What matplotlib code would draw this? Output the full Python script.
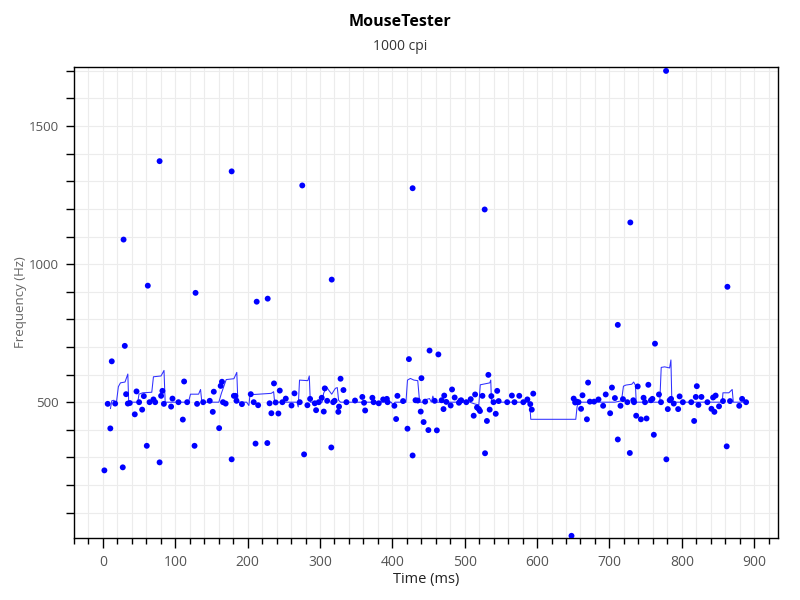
import matplotlib
matplotlib.use("Agg")
import matplotlib.pyplot as plt
from matplotlib.ticker import MultipleLocator, FixedLocator

plt.rcParams['font.family'] = ['Open Sans', 'DejaVu Sans']

title = "MouseTester"
subtitle = "1000 cpi"
x_label = "Time (ms)"
y_label = "Frequency (Hz)"

# scatter points: time (ms) and frequency (Hz)
point_t = [2, 6.6, 10.2, 12.2, 16.9, 27.4, 28.5, 30.2, 32, 34.4, 37.1, 44, 46.4, 50, 54.2, 56.5,
           60.6, 62, 64.4, 69.8, 72.2, 78.3, 78.3, 80.4, 82.2, 84.2, 94.2, 96.1, 104.4, 110.4,
           112.2, 116.4, 126.6, 128, 130.1, 138.5, 147.6, 151.8, 153.2, 160.6, 162.7, 164.5,
           165.9, 169.6, 177.9, 177.9, 181, 183, 184.6, 192.1, 204.3, 208.4, 210.9, 212.5,
           214.5, 227.2, 227.7, 230.3, 232.8, 236.4, 238.7, 242.5, 244.4, 248, 252.7, 260.6,
           264.7, 272, 275.5, 278, 282.6, 286.3, 292.8, 294.6, 298.3, 302.4, 305.2, 306.6,
           309.9, 315.6, 316.2, 318.2, 320.2, 325.3, 326.3, 328.4, 332.4, 336.5, 348.4, 358.5,
           360.9, 362.4, 372.4, 374.1, 381.2, 387.3, 392.4, 393.4, 402.8, 405.2, 407, 414.8,
           420.9, 422.9, 428, 428, 432, 435.1, 439.2, 440.2, 443.2, 445.3, 449.8, 451.4, 458.5,
           461.5, 463.6, 468.1, 470.7, 471.7, 474.6, 480.6, 482.5, 486.1, 492, 494, 495.1,
           502.2, 508.3, 512.4, 514.4, 517, 519.5, 521.1, 524.5, 527.6, 528.1, 530.7, 532.7,
           534.5, 536.8, 539.8, 542.9, 544.9, 546.9, 558.7, 565.2, 568.8, 575.4, 581, 586.6,
           590.6, 592.7, 594.7, 647.6, 650.6, 652.6, 654.7, 657.3, 660.8, 662.8, 668.9, 670.5,
           673, 678.8, 684.9, 691.3, 694.9, 701, 703.5, 707.6, 711.6, 711.6, 715.3, 718.7,
           724.8, 728.2, 728.9, 733, 734, 737, 739.1, 743.5, 747.2, 749.2, 751.3, 753.8, 757.4,
           759.4, 761.4, 763, 768.5, 771.3, 778.3, 778.7, 780.7, 783.3, 785.2, 788.9, 795, 797,
           801.5, 813.1, 817.1, 819.4, 820.8, 823, 827.2, 835.4, 841, 843.3, 845.1, 846.8,
           851.5, 857, 862.1, 863.1, 866.7, 879.4, 883.4, 888.9]
point_f = [253, 494, 405, 648, 495, 264, 1089, 704, 529, 495, 497, 456, 539, 500, 473, 522,
           342, 922, 500, 510, 500, 1373, 282, 523, 541, 494, 484, 513, 500, 437,
           575, 500, 342, 896, 494, 500, 505, 465, 538, 406, 559, 574,
           500, 495, 293, 1336, 523, 523, 505, 493, 529, 500, 350, 864,
           489, 352, 875, 496, 460, 568, 499, 459, 542, 500, 513, 488,
           532, 500, 1285, 311, 489, 512, 496, 471, 500, 516, 466, 550,
           505, 336, 944, 500, 505, 465, 484, 585, 544, 500, 506, 519,
           498, 470, 516, 500, 496, 510, 512, 500, 487, 439, 523, 504,
           404, 656, 307, 1275, 507, 506, 466, 587, 428, 502, 399, 687, 505,
           398, 673, 507, 475, 524, 501, 488, 546, 517, 498, 505, 507,
           500, 511, 451, 528, 481, 475, 468, 523, 1198, 315, 432, 599,
           473, 522, 500, 458, 541, 504, 500, 524, 500, 523, 500, 510,
           493, 473, 531, 16, 513, 499, 502, 500, 476, 525, 438, 571,
           502, 502, 510, 487, 528, 460, 553, 515, 365, 780, 487, 511,
           500, 316, 1151, 507, 500, 451, 557, 438, 516, 500, 441, 563, 507,
           512, 382, 712, 528, 500, 1700, 293, 475, 507, 512, 495, 475, 521,
           500, 500, 432, 519, 558, 490, 519, 500, 476, 517, 465, 524,
           485, 504, 340, 918, 504, 487, 512, 500]

# smoothed line: time (ms) and frequency (Hz)
line_t = [10.4, 12.2, 15.2, 16.9, 18.7, 21.3, 24.2, 30.5, 34.4, 35.6, 48.2, 49.8, 54.9, 67.5,
          69.8, 80.3, 84.4, 86, 118.2, 121, 132.2, 134.9, 136.7, 160.2, 163.7, 170.4, 181,
          185, 186.5, 198.6, 201.7, 203.3, 209.4, 232.6, 235.9, 237.3, 268.1, 269.9, 271.7,
          283.2, 285.2, 286.6, 302.9, 305, 309, 311.9, 316.2, 321.2, 323.9, 325.7, 328.4,
          398.5, 401.3, 403.6, 418.8, 420.9, 424.9, 429.8, 435.1, 437.7, 444.3, 447, 451.4,
          453.9, 456, 458.5, 506.9, 513.4, 519.5, 521.5, 534.7, 536, 537, 589.8, 591.3,
          653.5, 655.3, 656.7, 707.6, 716.7, 719.4, 722.8, 730.9, 733.5, 736, 737, 769.6,
          771.6, 776.3, 783.2, 785, 786.3, 856, 856.9, 865.1, 869.7, 871.2, 888.9]
line_f = [477, 505, 507, 498, 500, 556, 570, 573, 602, 500, 500, 529, 534, 536,
          592, 595, 615, 500, 500, 529, 529, 546, 500, 500, 532, 582, 585,
          608, 500, 500, 488, 529, 528, 532, 538, 500, 500, 483, 580,
          578, 595, 500, 500, 532, 556, 544, 529, 550, 553, 507, 500,
          500, 488, 500, 500, 580, 586, 580, 578, 500, 500, 510, 513,
          500, 522, 500, 500, 494, 490, 563, 570, 580, 500, 500, 438,
          438, 483, 500, 500, 505, 558, 562, 565, 573, 561, 500, 500,
          626, 628, 624, 653, 500, 500, 534, 534, 546, 500, 500]

fig = plt.figure(figsize=(8, 6), dpi=100)
ax = fig.add_axes([0.0925, 0.1033, 0.88, 0.785])

ax.plot(line_t, line_f, color='#3030ff', lw=0.75, zorder=2)
ax.scatter(point_t, point_f, s=18, color='#0000ff', edgecolors='none', zorder=3)

ax.set_xlim(-40, 933)
ax.set_ylim(8, 1714)

ax.xaxis.set_major_locator(MultipleLocator(100))
ax.xaxis.set_minor_locator(MultipleLocator(20))
ax.yaxis.set_major_locator(FixedLocator([500, 1000, 1500]))
ax.yaxis.set_minor_locator(MultipleLocator(100))

ax.grid(True, which='both', color='#ececec', lw=0.8, zorder=0)
ax.set_axisbelow(True)

ax.tick_params(axis='x', which='major', length=7, width=1, labelsize=10, labelcolor='#555555', pad=5)
ax.tick_params(axis='x', which='minor', length=4, width=1)
ax.tick_params(axis='y', which='both', length=6, width=1, labelsize=9.5, labelcolor='#555555', pad=5)

for s in ax.spines.values():
    s.set_color('black')
    s.set_linewidth(1)

ax.set_xlabel(x_label, fontsize=10.5, color='#222222', labelpad=2)
ax.set_ylabel(y_label, fontsize=9.5, color='#666666', labelpad=1)

fig.text(0.5, 0.963, title, ha='center', va='center', fontsize=11.5, fontweight='bold', color='black')
fig.text(0.5, 0.922, subtitle, ha='center', va='center', fontsize=10, color='#333333')

fig.savefig('out.png', dpi=100)
